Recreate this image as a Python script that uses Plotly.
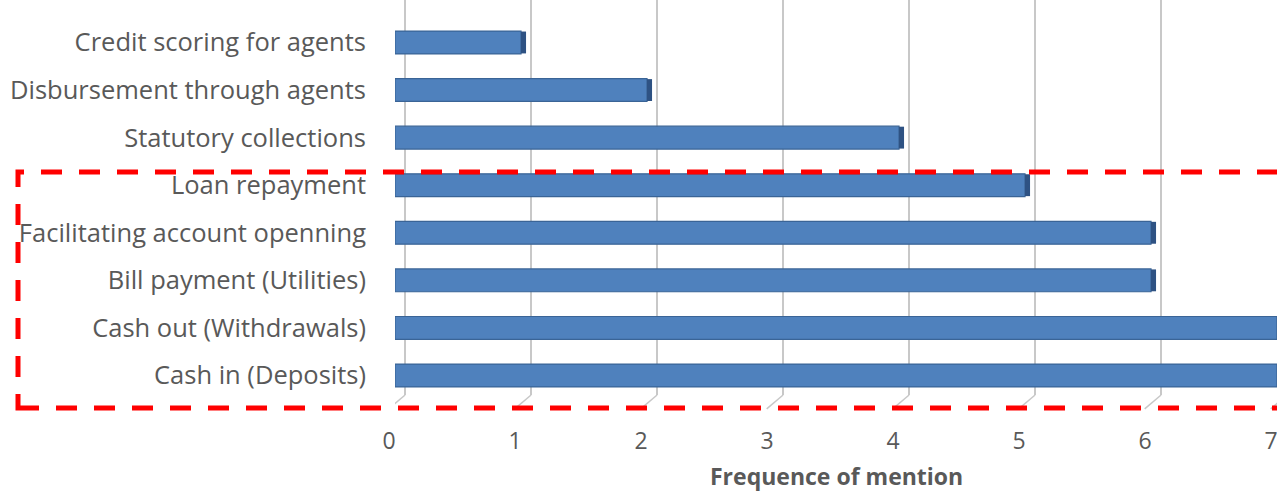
import plotly.graph_objects as go

categories = [
    "Cash in (Deposits)",
    "Cash out (Withdrawals)",
    "Bill payment (Utilities)",
    "Facilitating account openning",
    "Loan repayment",
    "Statutory collections",
    "Disbursement through agents",
    "Credit scoring for agents",
]
values = [7, 7, 6, 6, 5, 4, 2, 1]
x_ticks = [0, 1, 2, 3, 4, 5, 6, 7]
x_title = "Frequence of mention"

W, H = 1277, 492
L, R, T, B = 395, 0, 0, 97
pw, ph = W - L - R, H - T - B

BAR = "#4F81BD"
EDGE = "#3A6496"
SIDE = "#2E5283"
GRID = "#C8C8C8"
TXT = "#595959"
FONT = "Open Sans"

fig = go.Figure()
fig.add_trace(go.Bar(
    y=categories, x=values, orientation="h",
    marker=dict(color=BAR, line=dict(color=EDGE, width=1.2)),
    width=0.48, showlegend=False, hoverinfo="x+y",
))
# right end face (3D depth)
fig.add_trace(go.Bar(
    y=categories, x=[0.04] * len(values), base=values, orientation="h",
    marker=dict(color=SIDE, line=dict(width=0)),
    width=0.46, showlegend=False, hoverinfo="skip",
))

fig.update_layout(
    width=W, height=H,
    margin=dict(l=L, r=R, t=T, b=B, pad=0),
    paper_bgcolor="white", plot_bgcolor="white",
    barmode="overlay",
    font=dict(family=FONT, color=TXT, size=25),
    xaxis=dict(
        range=[0, 7], tickvals=x_ticks, ticktext=[str(v) for v in x_ticks],
        showgrid=False, zeroline=False, showline=False, automargin=False,
        ticklabeloverflow="allow", ticklabelshift=-6,
        tickfont=dict(size=23, color=TXT), ticklabelstandoff=30,
    ),
    xaxis2=dict(
        overlaying="x", range=[-0.08, 6.92], tickvals=x_ticks,
        showgrid=True, gridcolor=GRID, gridwidth=1.5, automargin=False,
        showticklabels=False, zeroline=False, showline=False,
    ),
    yaxis=dict(
        type="category", categoryorder="array", categoryarray=categories,
        range=[-0.41, 7.893], showgrid=False, zeroline=False, showline=False,
        automargin=False,
        tickfont=dict(size=25.5, color=TXT), ticklabelstandoff=28,
    ),
)
# invisible trace to activate xaxis2 gridlines
fig.add_trace(go.Scatter(x=[0], y=[categories[0]], xaxis="x2", mode="markers",
                         marker=dict(opacity=0), showlegend=False, hoverinfo="skip"))

# diagonal "floor" feet of the 3D gridlines
for k in x_ticks:
    fig.add_shape(type="line", xref="x2", yref="paper",
                  x0=k, y0=0, x1=k - 0.13, y1=-0.035,
                  line=dict(color=GRID, width=1.5), layer="below")

# helpers: page pixels -> paper coordinates
def px_x(px):
    return (px - L) / pw

def px_y(py):
    return (H - B - py) / ph

# axis title
fig.add_annotation(text=f"<b>{x_title}</b>", xref="paper", yref="paper",
                   x=0.5, y=px_y(476), xanchor="center", yanchor="middle",
                   showarrow=False, font=dict(size=23, color=TXT, family=FONT))

# red dashed highlight box
fig.add_shape(type="rect", xref="paper", yref="paper",
              x0=px_x(18), x1=px_x(1290), y0=px_y(408), y1=px_y(172),
              line=dict(color="#FF0000", width=5, dash="21px,17px"),
              fillcolor="rgba(0,0,0,0)", layer="above")

fig.write_html(
    "out.html",
    config={"displayModeBar": False},
    post_script="document.body.style.margin='0';document.body.style.overflow='hidden';",
)
